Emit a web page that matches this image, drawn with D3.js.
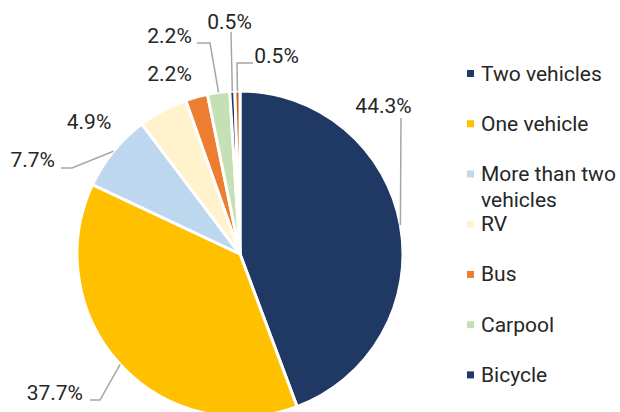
<!DOCTYPE html>
<html>
<head>
<meta charset="utf-8">
<script src="https://cdn.jsdelivr.net/npm/d3@7"></script>
<style>
  body { margin: 0; background: #fff; }
  svg { display: block; font-family: Roboto, "Liberation Sans", sans-serif; }
</style>
</head>
<body>
<div id="chart"></div>
<script>
// Daten
const categories = ["Two vehicles", "One vehicle", "More than two vehicles", "RV", "Bus", "Carpool", "Bicycle", "Other"];
const values = [44.3, 37.7, 7.7, 4.9, 2.2, 2.2, 0.5, 0.5];
const labels = ["44.3%", "37.7%", "7.7%", "4.9%", "2.2%", "2.2%", "0.5%", "0.5%"];
const colors = ["#203864", "#FFC000", "#BDD7EE", "#FFF2CC", "#ED7D31", "#C5E0B4", "#203864", "#C55A11"];
const legendItems = 7; // Legende zeigt nur die ersten 7

// Label-Layout relativ zum Mittelpunkt (manuell platziert wie im Original)
const labelLayout = [
    { x: 143.5, y: -141, anchor: "middle", elbow: [[161, -136]] },
    { x: -157, y: 146, anchor: "end", elbow: [[-140, 146], [-150, 146]] },
    { x: -185, y: -87, anchor: "end", elbow: [[-168, -86], [-179, -86]] },
    { x: -151, y: -125, anchor: "middle", elbow: null },
    { x: -70.5, y: -173, anchor: "middle", elbow: null },
    { x: -70.5, y: -211, anchor: "middle", elbow: [[-30, -211], [-43, -211]] },
    { x: -10.5, y: -225, anchor: "middle", elbow: [[-9, -222]] },
    { x: 36.5, y: -191, anchor: "middle", elbow: [[-3, -191], [13, -191]] }
];

const width = 620, height = 412;
const cx = 240, cy = 254, radius = 163;

const svg = d3.select("#chart").append("svg")
    .attr("width", width)
    .attr("height", height);

const g = svg.append("g").attr("transform", `translate(${cx},${cy})`);

const pie = d3.pie().sort(null).value(d => d);
const arcs = pie(values);

const arc = d3.arc().innerRadius(0).outerRadius(radius);
const edge = d3.arc().innerRadius(radius).outerRadius(radius);

// Segmente
g.selectAll("path.slice")
    .data(arcs)
    .join("path")
    .attr("class", "slice")
    .attr("d", arc)
    .attr("fill", (d, i) => colors[i])
    .attr("stroke", "#fff")
    .attr("stroke-width", 3)
    .attr("stroke-linejoin", "round");

// Führungslinien
arcs.forEach((d, i) => {
    const lay = labelLayout[i];
    if (!lay.elbow) return;
    const pts = [edge.centroid(d), ...lay.elbow];
    g.append("path")
        .attr("d", d3.line()(pts))
        .attr("fill", "none")
        .attr("stroke", "#a6a6a6")
        .attr("stroke-width", 1.5);
});

// Datenbeschriftungen
g.selectAll("text.lbl")
    .data(arcs)
    .join("text")
    .attr("class", "lbl")
    .attr("x", (d, i) => labelLayout[i].x)
    .attr("y", (d, i) => labelLayout[i].y)
    .attr("text-anchor", (d, i) => labelLayout[i].anchor)
    .attr("font-size", 21)
    .attr("fill", "#262626")
    .text((d, i) => labels[i]);

// Legende
const legendY = d3.scalePoint()
    .domain(d3.range(legendItems))
    .range([73.5, 374.9]);

const legend = svg.append("g");
const items = legend.selectAll("g")
    .data(categories.slice(0, legendItems))
    .join("g")
    .attr("transform", (d, i) => `translate(467,${legendY(i)})`);

items.append("rect")
    .attr("x", 0)
    .attr("y", -3.5)
    .attr("width", 7)
    .attr("height", 7)
    .attr("fill", (d, i) => colors[i]);

items.append("text")
    .attr("x", 14)
    .attr("y", 7)
    .attr("font-size", 21)
    .attr("fill", "#262626")
    .each(function (d) {
        const t = d3.select(this);
        const lines = d === "More than two vehicles" ? ["More than two", "vehicles"] : [d];
        lines.forEach((ln, k) => {
            t.append("tspan").attr("x", 14).attr("dy", k === 0 ? 0 : 26).text(ln);
        });
    });
</script>
</body>
</html>
